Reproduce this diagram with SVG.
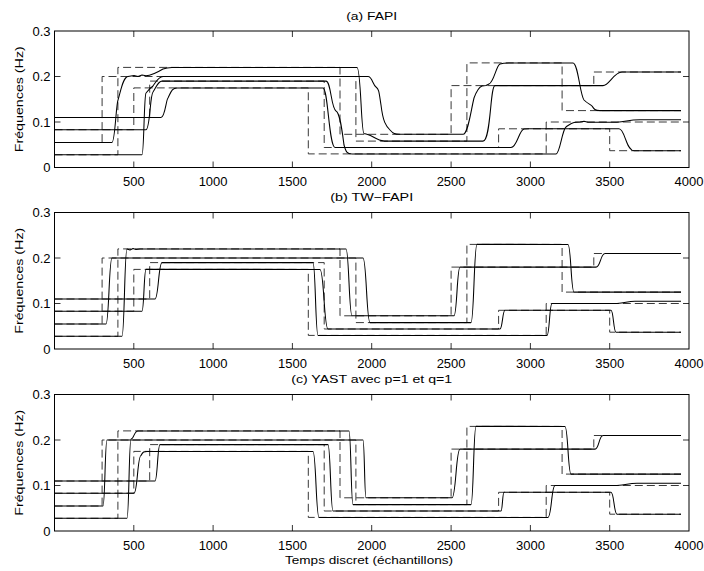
<svg xmlns="http://www.w3.org/2000/svg" xmlns:xlink="http://www.w3.org/1999/xlink" width="704" height="571" viewBox="0 0 704 571">
<style>
text{font-family:"Liberation Sans",Arial,sans-serif;fill:#000}
.tk{font-size:13px}
.ttl{font-size:11.5px}
.box{fill:none;stroke:#000;stroke-width:1}
.tick{fill:none;stroke:#000;stroke-width:0.8}
.est{fill:none;stroke:#000;stroke-width:1.05;stroke-linejoin:round}
.true{fill:none;stroke:#222;stroke-width:0.9;stroke-dasharray:8 4}
</style>
<defs>
<g id="frame">
<rect class="box" x="54.5" y="31" width="634.5" height="136.5"/>
<path class="tick" d="M133.8,167.5v-6M213.1,167.5v-6M292.4,167.5v-6M371.7,167.5v-6M451.1,167.5v-6M530.4,167.5v-6M609.7,167.5v-6M133.8,31v6M213.1,31v6M292.4,31v6M371.7,31v6M451.1,31v6M530.4,31v6M609.7,31v6M54.5,76.5h6M54.5,122h6M689,76.5h-6M689,122h-6"/>
</g>
<g id="truth">
<path class="true" d="M54.5,117.5H149.7V81.1H324.2V147.5H498.6V128.8H609.7V150.7H681"/>
<path class="true" d="M54.5,129.7H133.8V87.9H308.3V153.9H546.2V122H681"/>
<path class="true" d="M54.5,142.5H102.1V76.5H355.9V141.1H466.9V62.9H562.1V110.6H681"/>
<path class="true" d="M54.5,154.8H117.9V67.4H340V134.3H451.1V85.6H593.8V72H681"/>
</g>
</defs>
<rect width="704" height="571" fill="#fff"/>

<text class="ttl" x="371.7" y="20" text-anchor="middle" textLength="51" lengthAdjust="spacingAndGlyphs">(a) FAPI</text>
<text class="ttl" x="371.7" y="201" text-anchor="middle" textLength="83" lengthAdjust="spacingAndGlyphs">(b) TW−FAPI</text>
<text class="ttl" x="371.7" y="382.5" text-anchor="middle" textLength="161" lengthAdjust="spacingAndGlyphs">(c) YAST avec p=1 et q=1</text>
<text class="ttl" x="369" y="564" text-anchor="middle" textLength="168" lengthAdjust="spacingAndGlyphs">Temps discret (échantillons)</text>

<g id="panel-a">
<use xlink:href="#truth"/>
<g id="estimates-a">
<path class="est" d="M54.5,117.5H161C165,117.5 166,100 168,98C171,92 172,87.9 177,87.9H323C328,87.9 329,147 335,147.5H511C517,147.5 519,130 524,129C528,128.5 530,128.8 533,128.8H619C625,128.8 626,150.7 634,150.7H681"/>
<path class="est" d="M54.5,129.7H146C150,129.7 150,95 153,92C157,86 158,81.1 162,81.1H326C331,81.1 331,108 336,111C340,113 342,130 344,145C346,152 347,153.9 352,153.9H556C560,153.9 562,130 566,127C569,125 571,123 574,122.5L580,122L584,121.3L588,122.2H617C626,122 628,119.7 640,119.7H681"/>
<path class="est" d="M54.5,142.5H112C115,142.5 116,105 118,100C121,90 123,77 128,76.5L134,75.5L138,76.5L142,75L146,75.8C152,75.5 158,72 163,69C166,67.8 168,67.4 172,67.4H357C361,67.4 361,133 364,133.5C372,134.5 376,140.5 384,141.1H483C491,141.1 490,86 495,85.6H603C609,85.6 614,72 622,72H681"/>
<path class="est" d="M54.5,154.8H142C144,154.8 144,95 146,93C149,89 150,88 153,86C156,82 158,77 163,76.5H368C372,76.5 373,85 376,87C379,89 379,92 381,105C383,122 386,126 390,130C393,133.5 395,134.3 400,134.3H463C468,134.3 471,110 474,98C477,90 479,87 482,86L486,85.5L489,84C494,82 496,66 500,64C503,62.9 506,62.9 509,62.9H573C578,62.9 580,95 584,100C588,104 590,104 592,106C594,109 595,110.6 600,110.6H681"/>
</g>
<use xlink:href="#frame"/>
<g class="tk" text-anchor="middle">
<text x="133.8" y="186">500</text><text x="213.1" y="186">1000</text><text x="292.4" y="186">1500</text><text x="371.7" y="186">2000</text><text x="451.1" y="186">2500</text><text x="530.4" y="186">3000</text><text x="609.7" y="186">3500</text><text x="689" y="186">4000</text>
</g>
<g class="tk" text-anchor="end">
<text x="50.5" y="172">0</text><text x="50.5" y="126.5">0.1</text><text x="50.5" y="81">0.2</text><text x="50.5" y="35.5">0.3</text>
</g>
<text class="ttl" transform="translate(23,99.25) rotate(-90)" text-anchor="middle" textLength="106" lengthAdjust="spacingAndGlyphs">Fréquences (Hz)</text>
</g>

<g id="panel-b" transform="translate(0,181.5)">
<use xlink:href="#truth"/>
<g id="estimates-b">
<path class="est" d="M54.5,117.5H155C158.5,117.5 158.5,81.1 162,81.1H313C315.5,81.1 315.5,153.9 318,153.9H547C549.5,153.9 549.5,122 552,122H617C625,122 627,119.7 635,119.7H681"/>
<path class="est" d="M54.5,129.7H142C144,129.7 144,87.9 146,87.9H320C324,87.9 324,147.5 328,147.5H500C502.5,147.5 502.5,128.8 505,128.8H611C613.5,128.8 613.5,150.7 616,150.7H681"/>
<path class="est" d="M54.5,142.5H106C109,142.5 109,76.5 112,76.5H363C366.5,76.5 366.5,141.1 370,141.1H471C474,141.1 474,62.9 477,62.9H568C571,62.9 571,110.6 574,110.6H681"/>
<path class="est" d="M54.5,154.8H122C124.5,154.8 124.5,67.4 127,67.4L130,68.5L133,67L136,68L140,67.4H346C349,67.4 349,134.3 352,134.3H454C457,134.3 457,85.6 460,85.6H596C600.5,85.6 600.5,72 605,72H681"/>
</g>
<use xlink:href="#frame"/>
<g class="tk" text-anchor="middle">
<text x="133.8" y="186">500</text><text x="213.1" y="186">1000</text><text x="292.4" y="186">1500</text><text x="371.7" y="186">2000</text><text x="451.1" y="186">2500</text><text x="530.4" y="186">3000</text><text x="609.7" y="186">3500</text><text x="689" y="186">4000</text>
</g>
<g class="tk" text-anchor="end">
<text x="50.5" y="172">0</text><text x="50.5" y="126.5">0.1</text><text x="50.5" y="81">0.2</text><text x="50.5" y="35.5">0.3</text>
</g>
<text class="ttl" transform="translate(23,99.25) rotate(-90)" text-anchor="middle" textLength="106" lengthAdjust="spacingAndGlyphs">Fréquences (Hz)</text>
</g>

<g id="panel-c" transform="translate(0,363.5)">
<use xlink:href="#truth"/>
<g id="estimates-c">
<path class="est" d="M54.5,117.5H155C157.5,117.5 157.5,81.1 160,81.1H328C330.5,81.1 330.5,147.5 333,147.5H501C502.5,147.5 502.5,128.8 504,128.8H611C614,128.8 614,150.7 617,150.7H681"/>
<path class="est" d="M54.5,129.7H134C137.5,129.7 137.5,92 141,92C143,88 144,87.9 147,87.9H313C316,87.9 316,153.9 319,153.9H548C551.5,153.9 551.5,122 555,122H617C627,122 627,119.7 637,119.7H681"/>
<path class="est" d="M54.5,142.5H103C105,142.5 105,76.5 107,76.5H363C364.5,76.5 364.5,134.3 366,134.3H452C456,134.3 456,85.6 460,85.6H595C599,85.6 599,72 603,72H681"/>
<path class="est" d="M54.5,154.8H127C129,154.8 129,75.5 131,75.5C134,75.5 134,67.4 138,67.4H349C351,67.4 351,141.1 353,141.1H471C473.5,141.1 473.5,62.9 476,62.9H565C568,62.9 568,110.6 571,110.6H681"/>
</g>
<use xlink:href="#frame"/>
<g class="tk" text-anchor="middle">
<text x="133.8" y="186">500</text><text x="213.1" y="186">1000</text><text x="292.4" y="186">1500</text><text x="371.7" y="186">2000</text><text x="451.1" y="186">2500</text><text x="530.4" y="186">3000</text><text x="609.7" y="186">3500</text><text x="689" y="186">4000</text>
</g>
<g class="tk" text-anchor="end">
<text x="50.5" y="172">0</text><text x="50.5" y="126.5">0.1</text><text x="50.5" y="81">0.2</text><text x="50.5" y="35.5">0.3</text>
</g>
<text class="ttl" transform="translate(23,99.25) rotate(-90)" text-anchor="middle" textLength="106" lengthAdjust="spacingAndGlyphs">Fréquences (Hz)</text>
</g>
</svg>
